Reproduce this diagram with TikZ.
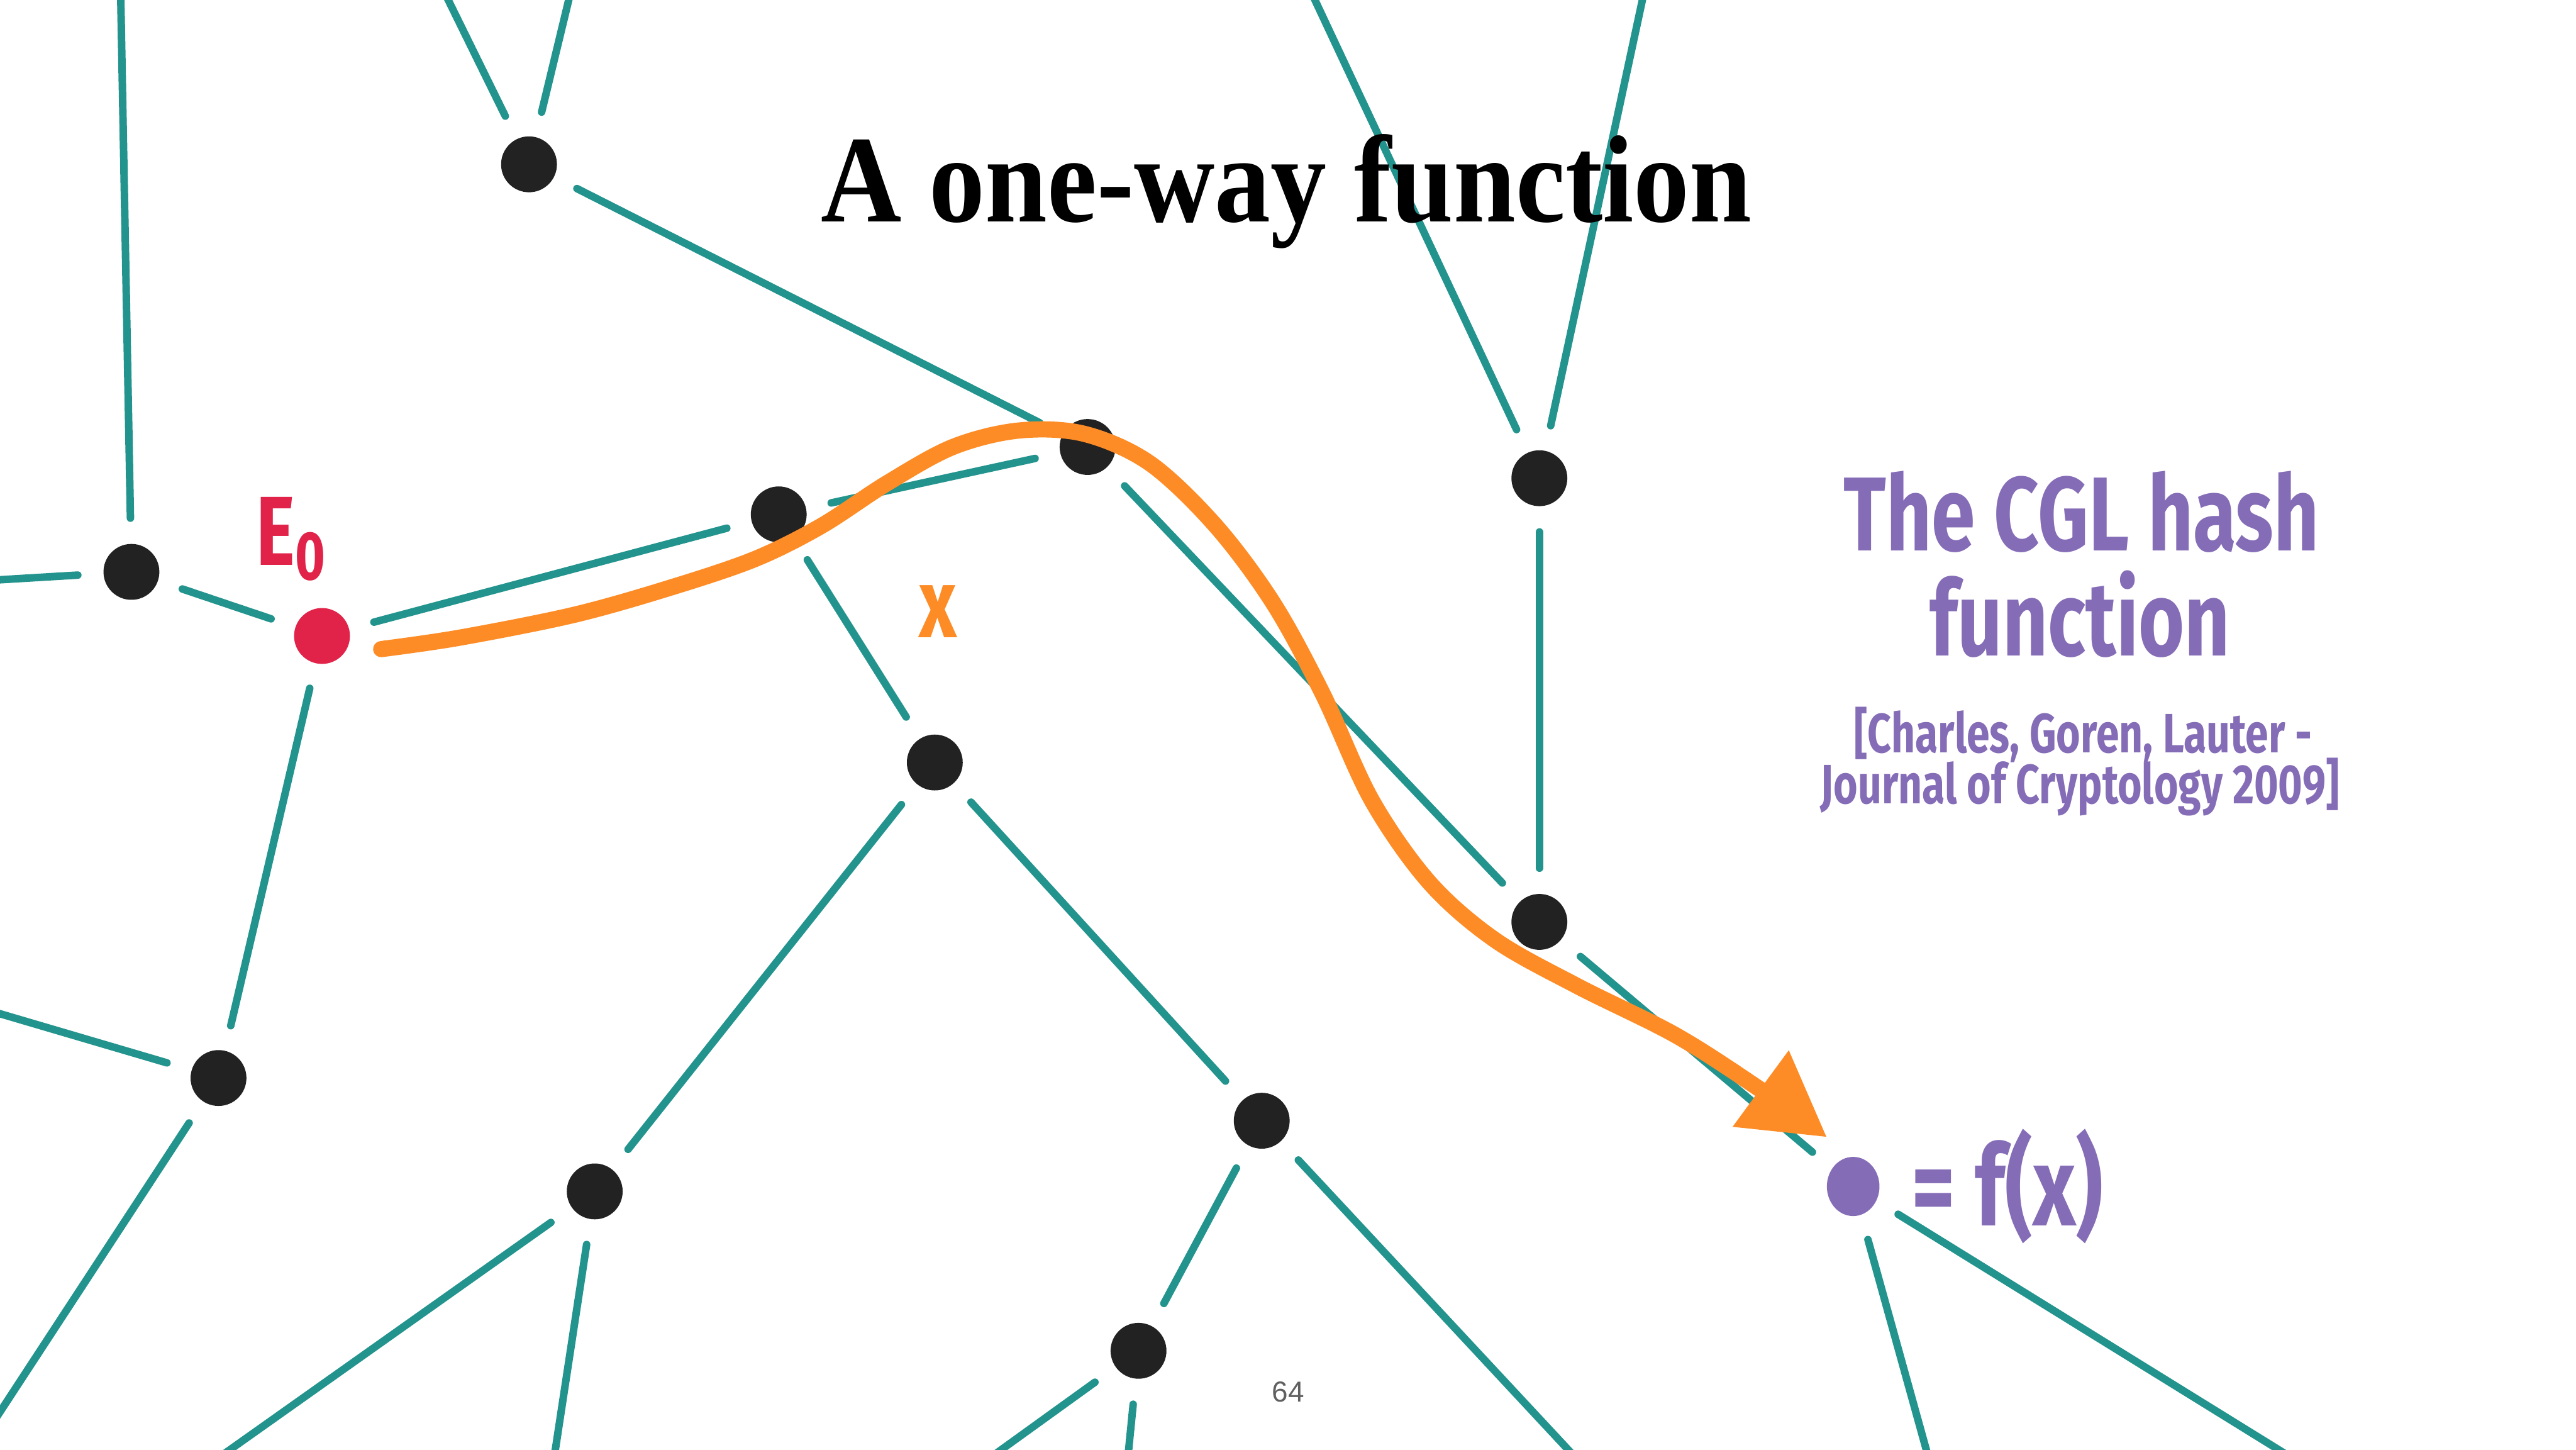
\documentclass[tikz,border=0pt]{standalone}
\usepackage{fontspec}
\usetikzlibrary{arrows.meta,positioning,shapes.geometric}
\newfontfamily\titlefont[FakeStretch=0.9]{Liberation Serif}
\newfontfamily\handfont[FakeStretch=0.75]{Fira Sans}
\newfontfamily\pagefont{Liberation Sans}
\definecolor{cglTeal}{RGB}{35,147,141}
\definecolor{cglOrange}{RGB}{254,140,38}
\definecolor{cglRed}{RGB}{226,35,73}
\definecolor{cglPurple}{RGB}{133,108,183}
\definecolor{cglDot}{RGB}{34,34,34}
\definecolor{cglGrey}{RGB}{96,96,96}

\begin{document}
\begin{tikzpicture}[
  vertex/.style={
    circle,
    fill=cglDot,
    inner sep=0pt,
    minimum size=0.34cm
  },
  edge/.style={
    cglTeal,
    line width=1.3pt,
    line cap=round,
    shorten <=0.15cm,
    shorten >=0.15cm
  },
  walk/.style={
    cglOrange,
    line width=2.8pt,
    line cap=round,
    -{Triangle[length=5mm,width=5.5mm]}
  },
  hand/.style={font=\handfont\bfseries, inner sep=0pt, align=center}
]
  \path[use as bounding box,fill=white] (0,0) rectangle (15.68,8.82);
  \clip (0,0) rectangle (15.68,8.82);

  % vertices of the isogeny graph
  \node[vertex] (v1) at (3.22,7.82) {};
  \node[vertex] (v2) at (0.80,5.34) {};
  \node[vertex,fill=cglRed] (e0) at (1.96,4.95) {};
  \node[vertex] (v3) at (4.74,5.69) {};
  \node[vertex] (v4) at (6.62,6.10) {};
  \node[vertex] (v5) at (9.37,5.91) {};
  \node[vertex] (v6) at (5.69,4.18) {};
  \node[vertex] (v7) at (9.37,3.21) {};
  \node[vertex] (v8) at (1.33,2.26) {};
  \node[vertex] (v9) at (3.62,1.57) {};
  \node[vertex] (v10) at (7.68,2.00) {};
  \node[vertex] (v11) at (6.93,0.60) {};
  \node[vertex,fill=cglPurple,ellipse,minimum width=0.32cm,minimum height=0.36cm] (fx) at (11.28,1.60) {};

  % edges leaving the slide
  \coordinate (o1) at (0.73,9.10);
  \coordinate (o2) at (2.63,9.02);
  \coordinate (o3) at (3.51,9.02);
  \coordinate (o4) at (7.91,9.02);
  \coordinate (o5) at (10.04,9.02);
  \coordinate (o6) at (-0.20,5.28);
  \coordinate (o7) at (-0.20,2.71);
  \coordinate (o8) at (-0.28,-0.20);
  \coordinate (o9) at (1.12,-0.20);
  \coordinate (o10) at (3.35,-0.20);
  \coordinate (o11) at (9.73,-0.20);
  \coordinate (o12) at (5.82,-0.20);
  \coordinate (o13) at (6.85,-0.20);
  \coordinate (o14) at (11.78,-0.20);
  \coordinate (o15) at (14.19,-0.20);

  \draw[edge] (v2) -- (o1);
  \draw[edge] (v1) -- (o2);
  \draw[edge] (v1) -- (o3);
  \draw[edge] (v5) -- (o4);
  \draw[edge] (v5) -- (o5);
  \draw[edge] (v2) -- (o6);
  \draw[edge] (v8) -- (o7);
  \draw[edge] (v8) -- (o8);
  \draw[edge] (v9) -- (o9);
  \draw[edge] (v9) -- (o10);
  \draw[edge] (v10) -- (o11);
  \draw[edge] (v11) -- (o12);
  \draw[edge] (v11) -- (o13);
  \draw[edge] (fx) -- (o14);
  \draw[edge] (fx) -- (o15);

  \draw[edge] (v1) -- (v4);
  \draw[edge] (v2) -- (e0);
  \draw[edge] (e0) -- (v3);
  \draw[edge] (v3) -- (v4);
  \draw[edge] (v3) -- (v6);
  \draw[edge] (e0) -- (v8);
  \draw[edge] (v4) -- (v7);
  \draw[edge] (v5) -- (v7);
  \draw[edge] (v7) -- (fx);
  \draw[edge] (v6) -- (v9);
  \draw[edge] (v6) -- (v10);
  \draw[edge] (v10) -- (v11);

  % the walk x
  \coordinate (start) at ([shift={(0.36,-0.08)}]e0.center);
  \coordinate (tip) at ([shift={(-0.16,0.30)}]fx.center);
  \draw[walk] plot[smooth,tension=0.55] coordinates {(start) (2.80,4.94) (3.50,5.08) (4.10,5.25) (4.60,5.42) (5.00,5.62) (5.40,5.88) (5.80,6.10) (6.20,6.20) (6.60,6.18) (7.00,6.00) (7.40,5.62) (7.75,5.15) (8.05,4.60) (8.35,3.95) (8.70,3.45) (9.10,3.10) (9.60,2.82) (10.20,2.52) (10.70,2.20) (tip)};

  \node[font=\titlefont\bfseries\fontsize{21.5}{24}\selectfont,anchor=base] (title) at (7.83,7.47) {A one-way function};
  \node[hand,text=cglRed,font=\handfont\bfseries\fontsize{17}{20}\selectfont] (elabel) at (1.78,5.54) {E\textsubscript{0}};
  \node[hand,text=cglOrange,font=\handfont\bfseries\fontsize{17}{20}\selectfont] (xlabel) at (5.71,5.10) {x};
  \node[hand,text=cglPurple,font=\handfont\bfseries\fontsize{18.2}{20}\selectfont,anchor=base] (cgl) at (12.67,5.47) {The CGL hash};
  \node[hand,text=cglPurple,font=\handfont\bfseries\fontsize{18.2}{20}\selectfont,anchor=base] (cglfn) at (12.66,4.83) {function};
  \node[hand,text=cglPurple,font=\handfont\bfseries\fontsize{9.6}{11}\selectfont,anchor=base] (cite) at (12.68,4.24) {[Charles, Goren, Lauter -};
  \node[hand,text=cglPurple,font=\handfont\bfseries\fontsize{9.6}{11}\selectfont,anchor=base] (citejn) at (12.66,3.93) {Journal of Cryptology 2009]};
  \node[hand,text=cglPurple,font=\handfont\bfseries\fontsize{19.5}{22}\selectfont,anchor=west,right=0.18cm of fx] (fxlabel) {= f(x)};
  \node[font=\pagefont\fontsize{5}{6}\selectfont,text=cglGrey,anchor=base] (pagenum) at (7.84,0.29) {64};
\end{tikzpicture}
\end{document}
